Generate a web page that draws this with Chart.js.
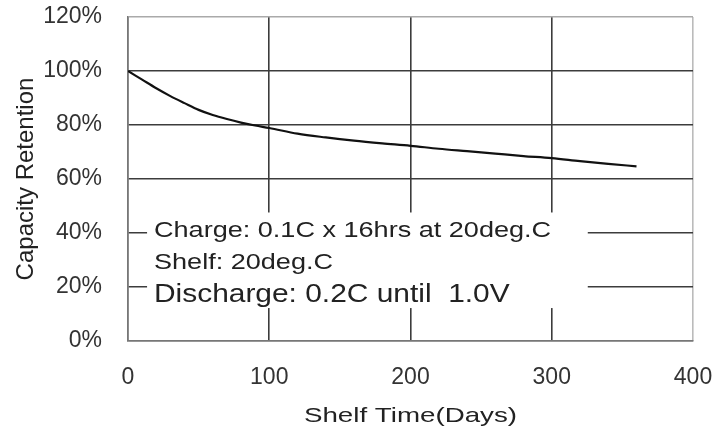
<!DOCTYPE html>
<html>
<head>
<meta charset="utf-8">
<script src="https://cdn.jsdelivr.net/npm/chart.js@4/dist/chart.umd.min.js"></script>
<style>
  html, body { margin: 0; padding: 0; background: #fff; }
  #wrap { width: 724px; height: 428px; position: relative; }
</style>
</head>
<body>
<div id="wrap"><canvas id="my-chart"></canvas></div>
<script>
'use strict';

// #pragma Data

let shelfDays = [0, 10, 20, 30, 40, 50, 60, 70, 80, 90, 100, 120, 140, 160, 180, 200, 220, 240, 260, 280, 300, 320, 340, 360];
let retention = [100, 96.8, 93.6, 90.7, 88.1, 85.6, 83.7, 82.2, 80.9, 79.8, 78.9, 76.8, 75.4, 74.2, 73.2, 72.3, 71.2, 70.3, 69.4, 68.5, 67.7, 66.6, 65.6, 64.7];

let xTicks = [0, 100, 200, 300, 400];
let yTicks = [0, 20, 40, 60, 80, 100, 120];

let noteLines = ['Charge: 0.1C x 16hrs at 20deg.C', 'Shelf: 20deg.C', 'Discharge: 0.2C until  1.0V'];

// #pragma Helpers

let chartContext = document.getElementById('my-chart').getContext('2d');
let fontFamily = '"Liberation Sans", Arial, sans-serif';

function gridColorX(ctx) {
  let v = ctx.tick ? ctx.tick.value : null;
  if (v === 0) return '#777';
  if (v === 400) return '#bbb';
  return '#3c3c3c';
}

function gridColorY(ctx) {
  let v = ctx.tick ? ctx.tick.value : null;
  if (v === 0) return '#777';
  if (v === 120) return '#aaa';
  return '#3c3c3c';
}

// draws the condition box and the x axis title (text stretched wide like the original)
let notesPlugin = {
  id: 'notes',
  afterDraw(chart) {
    let ctx = chart.ctx;
    let x = chart.scales.x;
    let y = chart.scales.y;

    // white box that hides the grid behind the notes
    let bx0 = x.getPixelForValue(13.5);
    let bx1 = x.getPixelForValue(325.5);
    let by0 = y.getPixelForValue(47.6);
    let by1 = y.getPixelForValue(12.2);
    ctx.save();
    ctx.fillStyle = '#fff';
    ctx.fillRect(bx0, by0, bx1 - bx0, by1 - by0);

    ctx.fillStyle = '#222';
    ctx.textBaseline = 'alphabetic';
    ctx.textAlign = 'left';
    let tx = x.getPixelForValue(18.4);
    let rows = [
      { value: 38.6, size: 22, stretch: 1.23 },
      { value: 26.7, size: 22, stretch: 1.23 },
      { value: 14.4, size: 26, stretch: 1.15 },
    ];
    for (let i = 0; i < noteLines.length; i++) {
      ctx.save();
      ctx.translate(tx, y.getPixelForValue(rows[i].value));
      ctx.scale(rows[i].stretch, 1);
      ctx.font = rows[i].size + 'px ' + fontFamily;
      ctx.fillText(noteLines[i], 0, 0);
      ctx.restore();
    }

    // x axis title
    ctx.save();
    ctx.translate((chart.chartArea.left + chart.chartArea.right) / 2, 422);
    ctx.scale(1.32, 1);
    ctx.font = '21px ' + fontFamily;
    ctx.textAlign = 'center';
    ctx.fillStyle = '#222';
    ctx.fillText('Shelf Time(Days)', 0, 0);
    ctx.restore();

    ctx.restore();
  },
};

// #pragma Chart

let points = [];
for (let i = 0; i < shelfDays.length; i++) {
  points.push({ x: shelfDays[i], y: retention[i] });
}

let chartConfig = {
  type: 'line',
  data: {
    datasets: [{
      label: 'Capacity Retention',
      data: points,
      borderColor: '#111',
      borderWidth: 2.2,
      pointRadius: 0,
      cubicInterpolationMode: 'monotone',
      fill: false,
    }],
  },
  options: {
    responsive: true,
    maintainAspectRatio: false,
    animation: false,
    devicePixelRatio: 1,
    layout: { padding: { top: 17, right: 31, left: 0, bottom: 0 } },
    plugins: {
      legend: { display: false },
      tooltip: { enabled: false },
    },
    scales: {
      x: {
        type: 'linear',
        min: 0,
        max: 400,
        afterBuildTicks(scale) { scale.ticks = xTicks.map(v => ({ value: v })); },
        afterFit(scale) { scale.height = 87; },
        ticks: {
          padding: 0,
          color: '#333',
          font: { family: fontFamily, size: 23 },
          maxRotation: 0,
        },
        // invisible tick marks give the gap between axis and labels
        grid: { color: gridColorX, lineWidth: 1.6, drawTicks: true, tickLength: 23, tickColor: 'rgba(0,0,0,0)' },
        border: { display: true, color: '#777', width: 1.6 },
        title: { display: false },
      },
      y: {
        min: 0,
        max: 120,
        afterBuildTicks(scale) { scale.ticks = yTicks.map(v => ({ value: v })); },
        afterFit(scale) { scale.width = 128; },
        ticks: {
          padding: 0,
          color: '#333',
          font: { family: fontFamily, size: 23 },
          callback: v => v + '%',
        },
        grid: { color: gridColorY, lineWidth: 1.6, drawTicks: true, tickLength: 26, tickColor: 'rgba(0,0,0,0)' },
        border: { display: true, color: '#777', width: 1.6 },
        title: {
          display: true,
          text: 'Capacity Retention',
          color: '#222',
          font: { family: fontFamily, size: 24 },
          padding: { top: 12, bottom: 0 },
        },
      },
    },
  },
  plugins: [notesPlugin],
};

let myChart = new Chart(chartContext, chartConfig);
</script>
</body>
</html>
